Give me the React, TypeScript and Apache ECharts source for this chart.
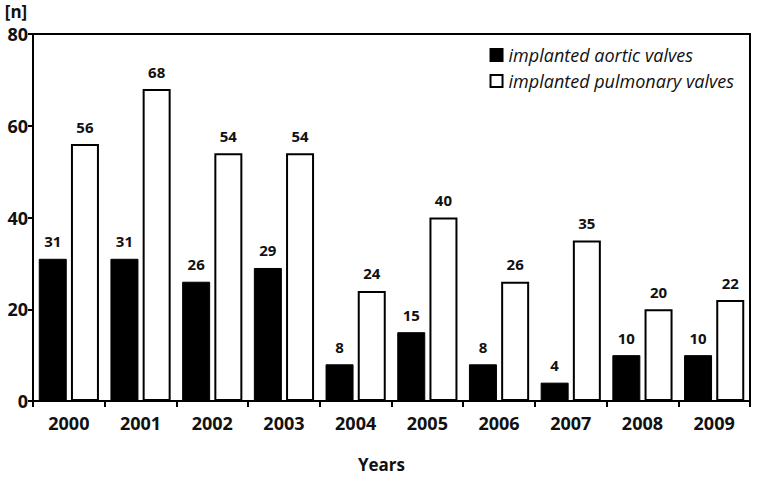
import React, { useEffect, useRef } from "react";
import * as echarts from "echarts";

const years = ["2000", "2001", "2002", "2003", "2004", "2005", "2006", "2007", "2008", "2009"];
const aortic = [31, 31, 26, 29, 8, 15, 8, 4, 10, 10];
const pulmonary = [56, 68, 54, 54, 24, 40, 26, 35, 20, 22];
const yTicks = { min: 0, max: 80, interval: 20 };

const FONT = "'Open Sans', 'Noto Sans', sans-serif";

export default function App() {
  const ref = useRef<HTMLDivElement>(null);
  useEffect(() => {
    if (!ref.current) return;
    const chart = echarts.init(ref.current, undefined, { renderer: "svg" });
    chart.setOption({
      animation: false,
      backgroundColor: "#fff",
      textStyle: { fontFamily: FONT },
      grid: {
        left: 33,
        right: 9,
        top: 34,
        bottom: 77,
        show: true,
        borderColor: "#000",
        borderWidth: 2,
        backgroundColor: "transparent",
      },
      legend: {
        orient: "vertical",
        right: 20,
        top: 41,
        icon: "rect",
        itemWidth: 12,
        itemHeight: 12,
        itemGap: 8,
        textStyle: { fontFamily: FONT, fontStyle: "italic", fontSize: 18, color: "#111", padding: [0, 0, 0, 1] },
        data: ["implanted aortic valves", "implanted pulmonary valves"],
      },
      xAxis: {
        type: "category",
        data: years,
        name: "Years",
        nameLocation: "middle",
        nameGap: 55,
        nameTextStyle: { fontFamily: FONT, fontWeight: "bold", fontSize: 17, color: "#111", padding: [0, 20, 0, 0] },
        axisLine: { lineStyle: { color: "#000", width: 2 } },
        axisTick: { show: true, length: 6, lineStyle: { color: "#000", width: 2 } },
        axisLabel: { fontFamily: FONT, fontWeight: "bold", fontSize: 18, color: "#111", margin: 13 },
      },
      yAxis: {
        type: "value",
        min: yTicks.min,
        max: yTicks.max,
        interval: yTicks.interval,
        name: "[n]",
        nameLocation: "end",
        nameGap: 14,
        nameTextStyle: { fontFamily: FONT, fontWeight: "bold", fontSize: 17, color: "#111", align: "center", padding: [0, 0, 0, -34] },
        splitLine: { show: false },
        axisLine: { show: true, lineStyle: { color: "#000", width: 2 } },
        axisTick: { show: true, length: 5, lineStyle: { color: "#000", width: 2 } },
        axisLabel: { fontFamily: FONT, fontWeight: "bold", fontSize: 18, color: "#111", margin: 5 },
      },
      series: [
        {
          name: "implanted aortic valves",
          type: "bar",
          data: aortic,
          barWidth: 28,
          barGap: "15%",
          itemStyle: { color: "#000", borderColor: "#000", borderWidth: 1 },
          label: { show: true, position: "top", distance: 10, fontFamily: FONT, fontWeight: "bold", fontSize: 15, color: "#111" },
        },
        {
          name: "implanted pulmonary valves",
          type: "bar",
          data: pulmonary,
          barWidth: 28,
          itemStyle: { color: "#fff", borderColor: "#000", borderWidth: 2 },
          label: { show: true, position: "top", distance: 10, fontFamily: FONT, fontWeight: "bold", fontSize: 15, color: "#111" },
        },
      ],
    });
    return () => chart.dispose();
  }, []);
  return <div ref={ref} style={{ width: 759, height: 478, position: "absolute", left: 0, top: 0 }} />;
}
